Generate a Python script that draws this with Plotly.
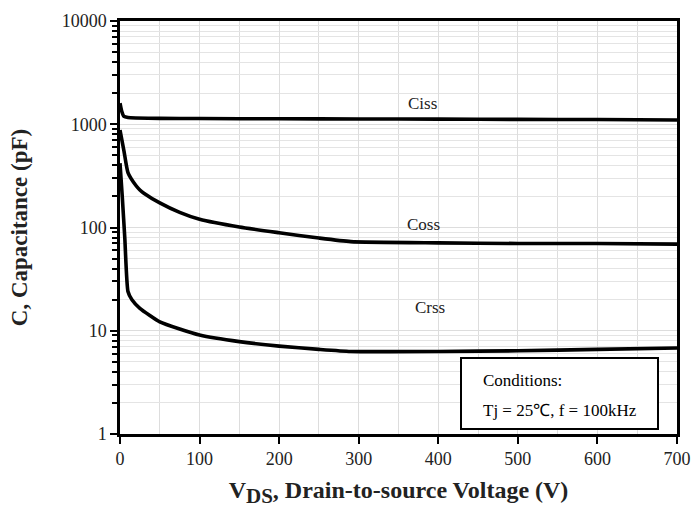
import math
import plotly.graph_objects as go

# Data
vds_ciss = [0, 2, 5, 10, 20, 50, 100, 200, 300, 400, 500, 600, 700]
ciss = [1600, 1350, 1190, 1160, 1150, 1140, 1135, 1130, 1125, 1120, 1115, 1110, 1100]

vds_coss = [0, 5, 10, 20, 25, 30, 50, 75, 100, 150, 200, 250, 290, 400, 500, 600, 700]
coss = [880, 550, 340, 255, 231, 215, 173, 140, 120, 101, 89, 79, 73, 71, 70, 70, 69]

vds_crss = [0, 3, 6, 10, 15, 25, 50, 75, 100, 150, 200, 250, 290, 400, 500, 600, 700]
crss = [420, 190, 80, 24, 20, 16.5, 12.2, 10.4, 9.1, 7.85, 7.1, 6.6, 6.3, 6.3, 6.4, 6.6, 6.8]

series_labels = ["Ciss", "Coss", "Crss"]
label_pos_v = [380, 382, 390]
label_pos_c = [1575, 106, 16.7]

y_tickvals = [1, 10, 100, 1000, 10000]
y_ticktext = ["1", "10", "100", "1000", "10000"]
x_tickvals = [0, 100, 200, 300, 400, 500, 600, 700]

FONT = "Liberation Serif"

fig = go.Figure()
for v, c in [(vds_ciss, ciss), (vds_coss, coss), (vds_crss, crss)]:
    fig.add_trace(go.Scatter(x=v, y=c, mode="lines",
                             line=dict(color="black", width=3.6, shape="spline", smoothing=0.5),
                             showlegend=False, hoverinfo="skip"))

for name, xv, yv in zip(series_labels, label_pos_v, label_pos_c):
    fig.add_annotation(x=xv, y=math.log10(yv), text=name, showarrow=False,
                       font=dict(family=FONT, size=17, color="#222"))

# Conditions box (paper coordinates of plot area)
fig.add_shape(type="rect", xref="paper", yref="paper",
              x0=(461 - 120) / 557, x1=(658 - 120) / 557,
              y0=(434 - 429) / 413, y1=(434 - 358) / 413,
              line=dict(color="black", width=2), fillcolor="white", layer="above")
fig.add_annotation(xref="paper", yref="paper", x=(481 - 120) / 557, y=(434 - 380) / 413,
                   xanchor="left", yanchor="middle", text="Conditions:", showarrow=False,
                   font=dict(family=FONT, size=17, color="black"))
fig.add_annotation(xref="paper", yref="paper", x=(481 - 120) / 557, y=(434 - 410) / 413,
                   xanchor="left", yanchor="middle", text="Tj = 25℃, f = 100kHz", showarrow=False,
                   font=dict(family=FONT, size=17, color="black"))

fig.update_layout(
    width=692, height=510,
    margin=dict(l=120, r=15, t=21, b=76, autoexpand=False),
    paper_bgcolor="white", plot_bgcolor="white",
    font=dict(family=FONT, size=18, color="#222"),
    xaxis=dict(range=[0, 700], tickmode="array", tickvals=x_tickvals,
               ticks="outside", ticklen=7, tickwidth=1.5, tickcolor="black",
               ticklabeloverflow="allow",
               showline=True, linecolor="black", linewidth=2.5, mirror=True,
               showgrid=True, gridcolor="#dddddd", gridwidth=1, zeroline=False,
               minor=dict(dtick=50, showgrid=True, gridcolor="#dddddd", ticks=""),
               tickfont=dict(family=FONT, size=18),
               title=dict(text="<b>V<sub><span style='font-size:21px'>DS</span></sub>, Drain-to-source Voltage (V)</b>",
                          font=dict(family=FONT, size=24, color="#222"), standoff=13)),
    yaxis=dict(type="log", range=[0, 4], tickmode="array", tickvals=y_tickvals, ticktext=y_ticktext,
               ticks="outside", ticklen=7, tickwidth=1.5, tickcolor="black",
               showline=True, linecolor="black", linewidth=2.5, mirror=True,
               showgrid=True, gridcolor="#dddddd", gridwidth=1, zeroline=False,
               minor=dict(dtick="D1", showgrid=True, gridcolor="#e4e4e4", ticks="outside",
                          ticklen=5, tickwidth=1.5, tickcolor="black"),
               tickfont=dict(family=FONT, size=18),
               title=dict(text="<b>C, Capacitance (pF)</b>",
                          font=dict(family=FONT, size=23, color="#222"), standoff=28)),
)

fig.write_html(
    "out.html",
    config={"displayModeBar": False},
    post_script="document.documentElement.style.margin='0';document.body.style.margin='0';"
                "document.documentElement.style.overflow='hidden';document.body.style.overflow='hidden';",
)
